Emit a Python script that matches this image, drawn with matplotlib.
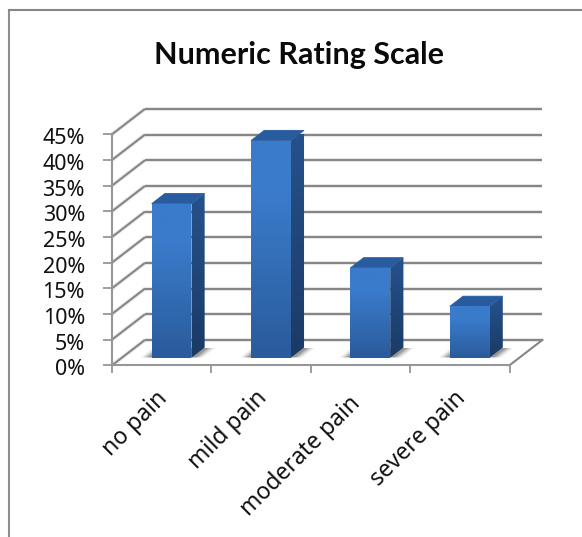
import matplotlib
matplotlib.use('Agg')
import matplotlib.pyplot as plt
import numpy as np
from matplotlib.colors import LinearSegmentedColormap
from matplotlib.lines import Line2D
from matplotlib.patches import Polygon
from matplotlib.transforms import ScaledTranslation

# Data
TITLE = 'Numeric Rating Scale'
CATEGORIES = ['no pain', 'mild pain', 'moderate pain', 'severe pain']
VALUES = [30, 42.3, 17.5, 10]
Y_TICKS = [0, 5, 10, 15, 20, 25, 30, 35, 40, 45]

# Depth of the floor, as an offset in category and percent units
DEPTH_X = 0.332
DEPTH_Y = 4.95
BAR_WIDTH = 0.4
BAR_FRONT = 0.3
BAR_BACK = 0.7

GRID_COLOR = '#868686'
TITLE_FONT = 'Lato'
LABEL_FONT = 'Noto Sans'

# Nudges for the slanted category labels, in pixels
LABEL_NUDGE = [(-2, 0), (-2, 0), (-8, -5), (-2, 0)]

FRONT_CMAP = LinearSegmentedColormap.from_list(
    'front', [(0, '#3a7bcb'), (0.25, '#3a7bcb'), (1, '#2a5b9b')])
SIDE_CMAP = LinearSegmentedColormap.from_list('side', ['#25528c', '#1b3a65'])


def project(x, y, depth):
    """Shift a point on the front plane back along the floor diagonal."""
    return x + depth * DEPTH_X, y + depth * DEPTH_Y


def draw_walls(ax):
    """Back wall lines, side wall diagonals and the right edge of the floor."""
    for level in Y_TICKS:
        back = project(0, level, 1)
        end = project(4, level, 1)
        for xs, ys in [((0, back[0]), (level, back[1])), ((back[0], end[0]), (back[1], end[1]))]:
            ax.plot(xs, ys, color='#d9d9d9', lw=3.0, alpha=0.5, clip_on=False, zorder=1, solid_capstyle='butt')
            ax.plot(xs, ys, color=GRID_COLOR, lw=1.5, clip_on=False, zorder=2, solid_capstyle='butt')
    corner = project(4, 0, 1)
    ax.plot((4, corner[0]), (0, corner[1]), color=GRID_COLOR, lw=1.5, clip_on=False, zorder=2)


def draw_shadow(ax, left, right):
    """Soft shadow lying on the floor around the foot of a bar."""
    for grow, alpha in [(0.12, 0.06), (0.10, 0.10), (0.08, 0.16), (0.06, 0.22), (0.04, 0.28)]:
        corners = [project(left - grow, 0, BAR_FRONT + 0.01), project(right + grow, 0, BAR_FRONT + 0.01),
                   project(right + grow, 0, BAR_BACK - 0.02), project(left - grow, 0, BAR_BACK - 0.02)]
        ax.add_patch(Polygon(corners, closed=True, facecolor='#555555', edgecolor='none',
                             alpha=alpha, clip_on=False, zorder=3))


def gradient_face(ax, corners, cmap, zorder):
    """Fill a polygon with a vertical gradient."""
    xs = [c[0] for c in corners]
    ys = [c[1] for c in corners]
    grad = np.linspace(0, 1, 128).reshape(-1, 1)
    img = ax.imshow(grad, cmap=cmap, aspect='auto', origin='upper',
                    extent=(min(xs), max(xs), min(ys), max(ys)), zorder=zorder)
    clip = Polygon(corners, closed=True, transform=ax.transData, facecolor='none', edgecolor='none')
    ax.add_patch(clip)
    img.set_clip_path(clip)


def draw_bar(ax, center, value):
    left = center - BAR_WIDTH / 2
    right = center + BAR_WIDTH / 2
    draw_shadow(ax, left, right)

    a = project(left, 0, BAR_FRONT)
    b = project(right, 0, BAR_FRONT)
    c = project(right, value, BAR_FRONT)
    d = project(left, value, BAR_FRONT)
    e = project(right, 0, BAR_BACK)
    f = project(right, value, BAR_BACK)
    g = project(left, value, BAR_BACK)

    gradient_face(ax, [b, e, f, c], SIDE_CMAP, 4)
    # The edge closes the seam left by the clipped gradients
    ax.add_patch(Polygon([d, c, f, g], closed=True, facecolor='#285c9e', edgecolor='#285c9e', lw=0.6,
                         clip_on=False, zorder=4))
    gradient_face(ax, [a, b, c, d], FRONT_CMAP, 5)


def main():
    plt.rcParams['font.family'] = LABEL_FONT
    fig = plt.figure(figsize=(5.82, 5.37), dpi=100, facecolor='white')

    # Chart area frame, only its top and left edges are visible
    fig.add_artist(Line2D([9 / 582, 9 / 582], [0, 1 - 10 / 537], color='#8f8f8f', lw=1.5))
    fig.add_artist(Line2D([9 / 582, 1], [1 - 10 / 537, 1 - 10 / 537], color='#868686', lw=1.5))

    ax = fig.add_axes([112 / 582, 1 - 365.3 / 537, 397.5 / 582, 231 / 537])
    ax.patch.set_visible(False)

    draw_walls(ax)
    for i, value in enumerate(VALUES):
        draw_bar(ax, i + 0.5, value)

    ax.set_xlim(0, 4)
    ax.set_ylim(0, 45)

    for side in ['top', 'right']:
        ax.spines[side].set_visible(False)
    for side in ['left', 'bottom']:
        ax.spines[side].set_color('#969696')
        ax.spines[side].set_linewidth(1.5)
        ax.spines[side].set_zorder(6)

    ax.set_yticks(Y_TICKS)
    ax.set_yticklabels([f'{t}%' for t in Y_TICKS], fontsize=15.5, color='#111111')
    ax.tick_params(axis='y', length=6.5, width=1.3, color='#969696', pad=13)
    for label in ax.get_yticklabels():
        label.set_transform(label.get_transform() + ScaledTranslation(0, -2 / 100, fig.dpi_scale_trans))

    ax.set_xticks(range(5))
    ax.set_xticklabels([])
    ax.tick_params(axis='x', which='major', length=6, width=1.3, color='#969696')
    ax.set_xticks([i + 0.5 for i in range(4)], minor=True)
    ax.set_xticklabels(CATEGORIES, minor=True, rotation=45, ha='right', rotation_mode='anchor',
                       fontsize=16.5, color='#111111')
    ax.tick_params(axis='x', which='minor', length=0, pad=15)
    for label, (dx, dy) in zip(ax.get_xticklabels(minor=True), LABEL_NUDGE):
        label.set_transform(label.get_transform() + ScaledTranslation((dx - 4) / 100, dy / 100, fig.dpi_scale_trans))

    fig.text(299 / 582, 1 - 55 / 537, TITLE, fontsize=22, fontweight='bold', color='#0a0a0a',
             ha='center', va='center', family=TITLE_FONT)

    fig.savefig('out.png', dpi=100)


if __name__ == "__main__":
    main()
